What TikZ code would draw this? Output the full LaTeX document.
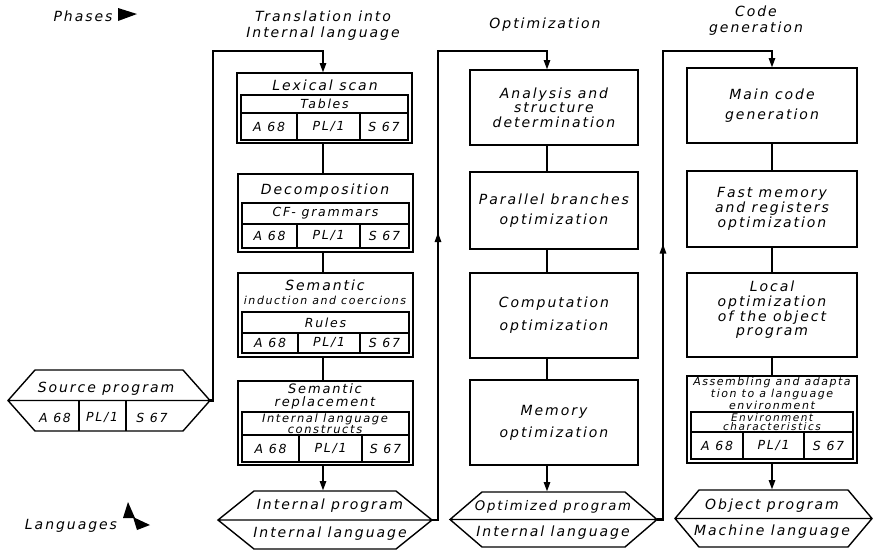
\documentclass[tikz,border=0pt]{standalone}
\usepackage{fontspec}
\newfontfamily\hand[LetterSpace=14]{DejaVu Sans}
\usetikzlibrary{calc,arrows.meta,decorations.markings}

% font size helper
\newcommand\fs[2]{\fontsize{#1}{#2}\selectfont}
% rectangle node given by its corners: style, name, x1, y1, x2, y2, text
\newcommand\rectnode[7]{\node[#1, minimum width={(#5-#3)*1pt}, minimum height={(#6-#4)*1pt}, anchor=north west] (#2) at (#3,#4) {#7};}
% hexagon with a middle line: name, cx, cy, half width, half height, chamfer
\newcommand\hexnode[6]{%
  \node[minimum width={2*#4*1pt}, minimum height={2*#5*1pt}] (#1) at (#2,#3) {};
  \draw[hexline] (#1.west) -- ($(#1.north west)+(#6,0)$) -- ($(#1.north east)+(-#6,0)$)
     -- (#1.east) -- ($(#1.south east)+(-#6,0)$) -- ($(#1.south west)+(#6,0)$) -- cycle
     (#1.west) -- (#1.east);}

\begin{document}
\begin{tikzpicture}[x=1pt,y=-1pt,
  every node/.style={inner sep=0pt, outer sep=0pt, font=\hand\itshape\fs{14}{16}},
  box/.style={draw, line width=1.5pt, align=center},
  cell/.style={draw, line width=1.1pt, font=\hand\itshape\fs{12.5}{14}, align=center},
  small/.style={font=\hand\itshape\fs{11.5}{10}, align=center},
  hexline/.style={line width=1.4pt, line join=miter},
  conn/.style={line width=2.6pt, line join=miter},
  arr/.style={-{Triangle[length=10pt,width=6pt]}},
  midarrow/.style={postaction={decorate, decoration={markings,
      mark=at position #1 with {\arrow{Triangle[length=10pt,width=6pt]}}}}},
]
\fill[white] (0,0) rectangle (878,550);
\useasboundingbox (0,0) rectangle (878,550);

% legend
\node (phases) at (83,16) {Phases};
\fill (118,8) -- (137,14) -- (118,21) -- cycle;
\node (langs) at (71,526) {Languages};
\fill (128,502) -- (135,518) -- (123,518) -- cycle;
\fill (133,517) -- (150,525) -- (137,530) -- cycle;

% column headings
\node[align=center] (h1) at (323,25.5) {Translation into\\Internal language};
\node (h2) at (545,25) {Optimization};
\node[align=center] (h3) at (756,21) {Code\\generation};

% spine positions of the three columns
\coordinate (s1) at (323,0);
\coordinate (s2) at (547,0);
\coordinate (s3) at (772,0);

% ---- translation into internal language ----
\rectnode{box}{lex}{237}{73}{412}{143}{}
\node (lext) at (325,85.5) {Lexical scan};
\rectnode{cell}{lexr}{241}{95}{408}{113}{Tables}
\rectnode{cell}{lexa}{241}{113}{297}{140}{A 68}
\rectnode{cell}{lexb}{297}{113}{360}{140}{PL/1}
\rectnode{cell}{lexc}{360}{113}{408}{140}{S 67}

\rectnode{box}{dec}{238}{174}{413}{252}{}
\node (dect) at (325,191) {Decomposition};
\rectnode{cell}{decr}{242}{203}{409}{224}{CF- grammars}
\rectnode{cell}{deca}{242}{224}{297}{248}{A 68}
\rectnode{cell}{decb}{297}{224}{360}{248}{PL/1}
\rectnode{cell}{decc}{360}{224}{409}{248}{S 67}

\rectnode{box}{sem}{238}{273}{413}{357}{}
\node (semt) at (325,285) {Semantic};
\node[small, font=\hand\itshape\fs{11}{10}] (semu) at (325,300) {induction and coercions};
\rectnode{cell}{semr}{242}{312}{409}{333}{Rules}
\rectnode{cell}{sema}{242}{333}{298}{353}{A 68}
\rectnode{cell}{semb}{298}{333}{360}{353}{PL/1}
\rectnode{cell}{semc}{360}{333}{409}{353}{S 67}

\rectnode{box}{rep}{238}{381}{413}{465}{}
\node[align=center, font=\hand\itshape\fs{13}{13}] (rept) at (325,396.5) {Semantic\\replacement};
\rectnode{cell}{repr}{242}{412}{409}{435}{}
\node[small] (repu) at (325,423.5) {Internal language\\constructs};
\rectnode{cell}{repa}{242}{435}{299}{462}{A 68}
\rectnode{cell}{repb}{299}{435}{362}{462}{PL/1}
\rectnode{cell}{repc}{362}{435}{409}{462}{S 67}

% ---- optimization ----
\rectnode{box, font=\hand\itshape\fs{14}{14.5}}{ana}{470}{70}{638}{145}{Analysis and\\structure\\determination}
\rectnode{box, font=\hand\itshape\fs{14}{20}}{par}{470}{172}{638}{249}{Parallel branches\\optimization}
\rectnode{box, font=\hand\itshape\fs{14}{23}}{com}{470}{273}{638}{358}{Computation\\optimization}
\rectnode{box, font=\hand\itshape\fs{14}{22}}{mem}{470}{380}{638}{465}{Memory\\optimization}

% ---- code generation ----
\rectnode{box, font=\hand\itshape\fs{14}{20}}{mcg}{687}{68}{857}{143}{Main code\\generation}
\rectnode{box, font=\hand\itshape\fs{14}{15}}{fmr}{687}{171}{857}{247}{Fast memory\\and registers\\optimization}
\node[align=center, font=\hand\itshape\fs{14}{14.7}] (loct) at (772,310) {Local\\optimization\\of the object\\program};
\rectnode{box}{loc}{687}{273}{857}{357}{}
\rectnode{box}{asm}{687}{376}{857}{463}{}
\node[align=center, font=\hand\itshape\fs{11}{10.5}] (asmt) at (772,393.5) {Assembling and adapta\\tion to a language\\environment};
\rectnode{cell}{asmr}{691}{412}{853}{432}{}
\node[small, font=\hand\itshape\fs{10.5}{9.5}] (asmu) at (772,422) {Environment\\characteristics};
\rectnode{cell}{asma}{691}{432}{743}{459}{A 68}
\rectnode{cell}{asmb}{743}{432}{804}{459}{PL/1}
\rectnode{cell}{asmc}{804}{432}{853}{459}{S 67}

% ---- program / language hexagons ----
\hexnode{src}{109}{400.5}{101}{30.5}{27}
\node (srct) at (106,388.5) {Source program};
\draw[hexline] ($(src.west)+(71,0)$) -- ($(src.south west)+(71,0)$)
               ($(src.west)+(118,0)$) -- ($(src.south west)+(118,0)$);
\node[font=\hand\itshape\fs{12.5}{14}] (srca) at (55,418) {A 68};
\node[font=\hand\itshape\fs{12.5}{14}] (srcb) at (102,418) {PL/1};
\node[font=\hand\itshape\fs{12.5}{14}] (srcc) at (152,418) {S 67};

\hexnode{ip}{325}{520}{107}{29}{36}
\node (ipt) at (330,505.5) {Internal program};
\node (ipl) at (330,533.5) {Internal language};

\hexnode{op}{553.5}{519.5}{103.5}{27.5}{32}
\node[font=\hand\itshape\fs{13.2}{15}] (opt) at (553,506.5) {Optimized program};
\node (opl) at (553,533) {Internal language};

\hexnode{obj}{773.5}{518.5}{98.5}{28.5}{24}
\node (objt) at (772,505.5) {Object program};
\node (objl) at (772,532) {Machine language};

% ---- connectors inside the columns ----
\draw[conn] (lex.south -| s1) -- (dec.north -| s1);
\draw[conn] (dec.south -| s1) -- (sem.north -| s1);
\draw[conn] (sem.south -| s1) -- (rep.north -| s1);
\draw[conn,arr] (rep.south -| s1) -- (ip.north -| s1);

\draw[conn] (ana.south -| s2) -- (par.north -| s2);
\draw[conn] (par.south -| s2) -- (com.north -| s2);
\draw[conn] (com.south -| s2) -- (mem.north -| s2);
\draw[conn,arr] (mem.south -| s2) -- (op.north -| s2);

\draw[conn] (mcg.south -| s3) -- (fmr.north -| s3);
\draw[conn] (fmr.south -| s3) -- (loc.north -| s3);
\draw[conn] (loc.south -| s3) -- (asm.north -| s3);
\draw[conn,arr] (asm.south -| s3) -- (obj.north -| s3);

% ---- connectors between the phases ----
\coordinate (r1) at (213,51);
\coordinate (r2) at (438,51);
\coordinate (r3) at (663,51);
\draw[conn,arr] (src.east) -| (r1) -| (lex.north -| s1);
\draw[conn,arr,midarrow=294pt] (ip.east) -| (r2) -| (ana.north -| s2);
\draw[conn,arr,midarrow=282pt] (op.east) -| (r3) -| (mcg.north -| s3);
\end{tikzpicture}
\end{document}
